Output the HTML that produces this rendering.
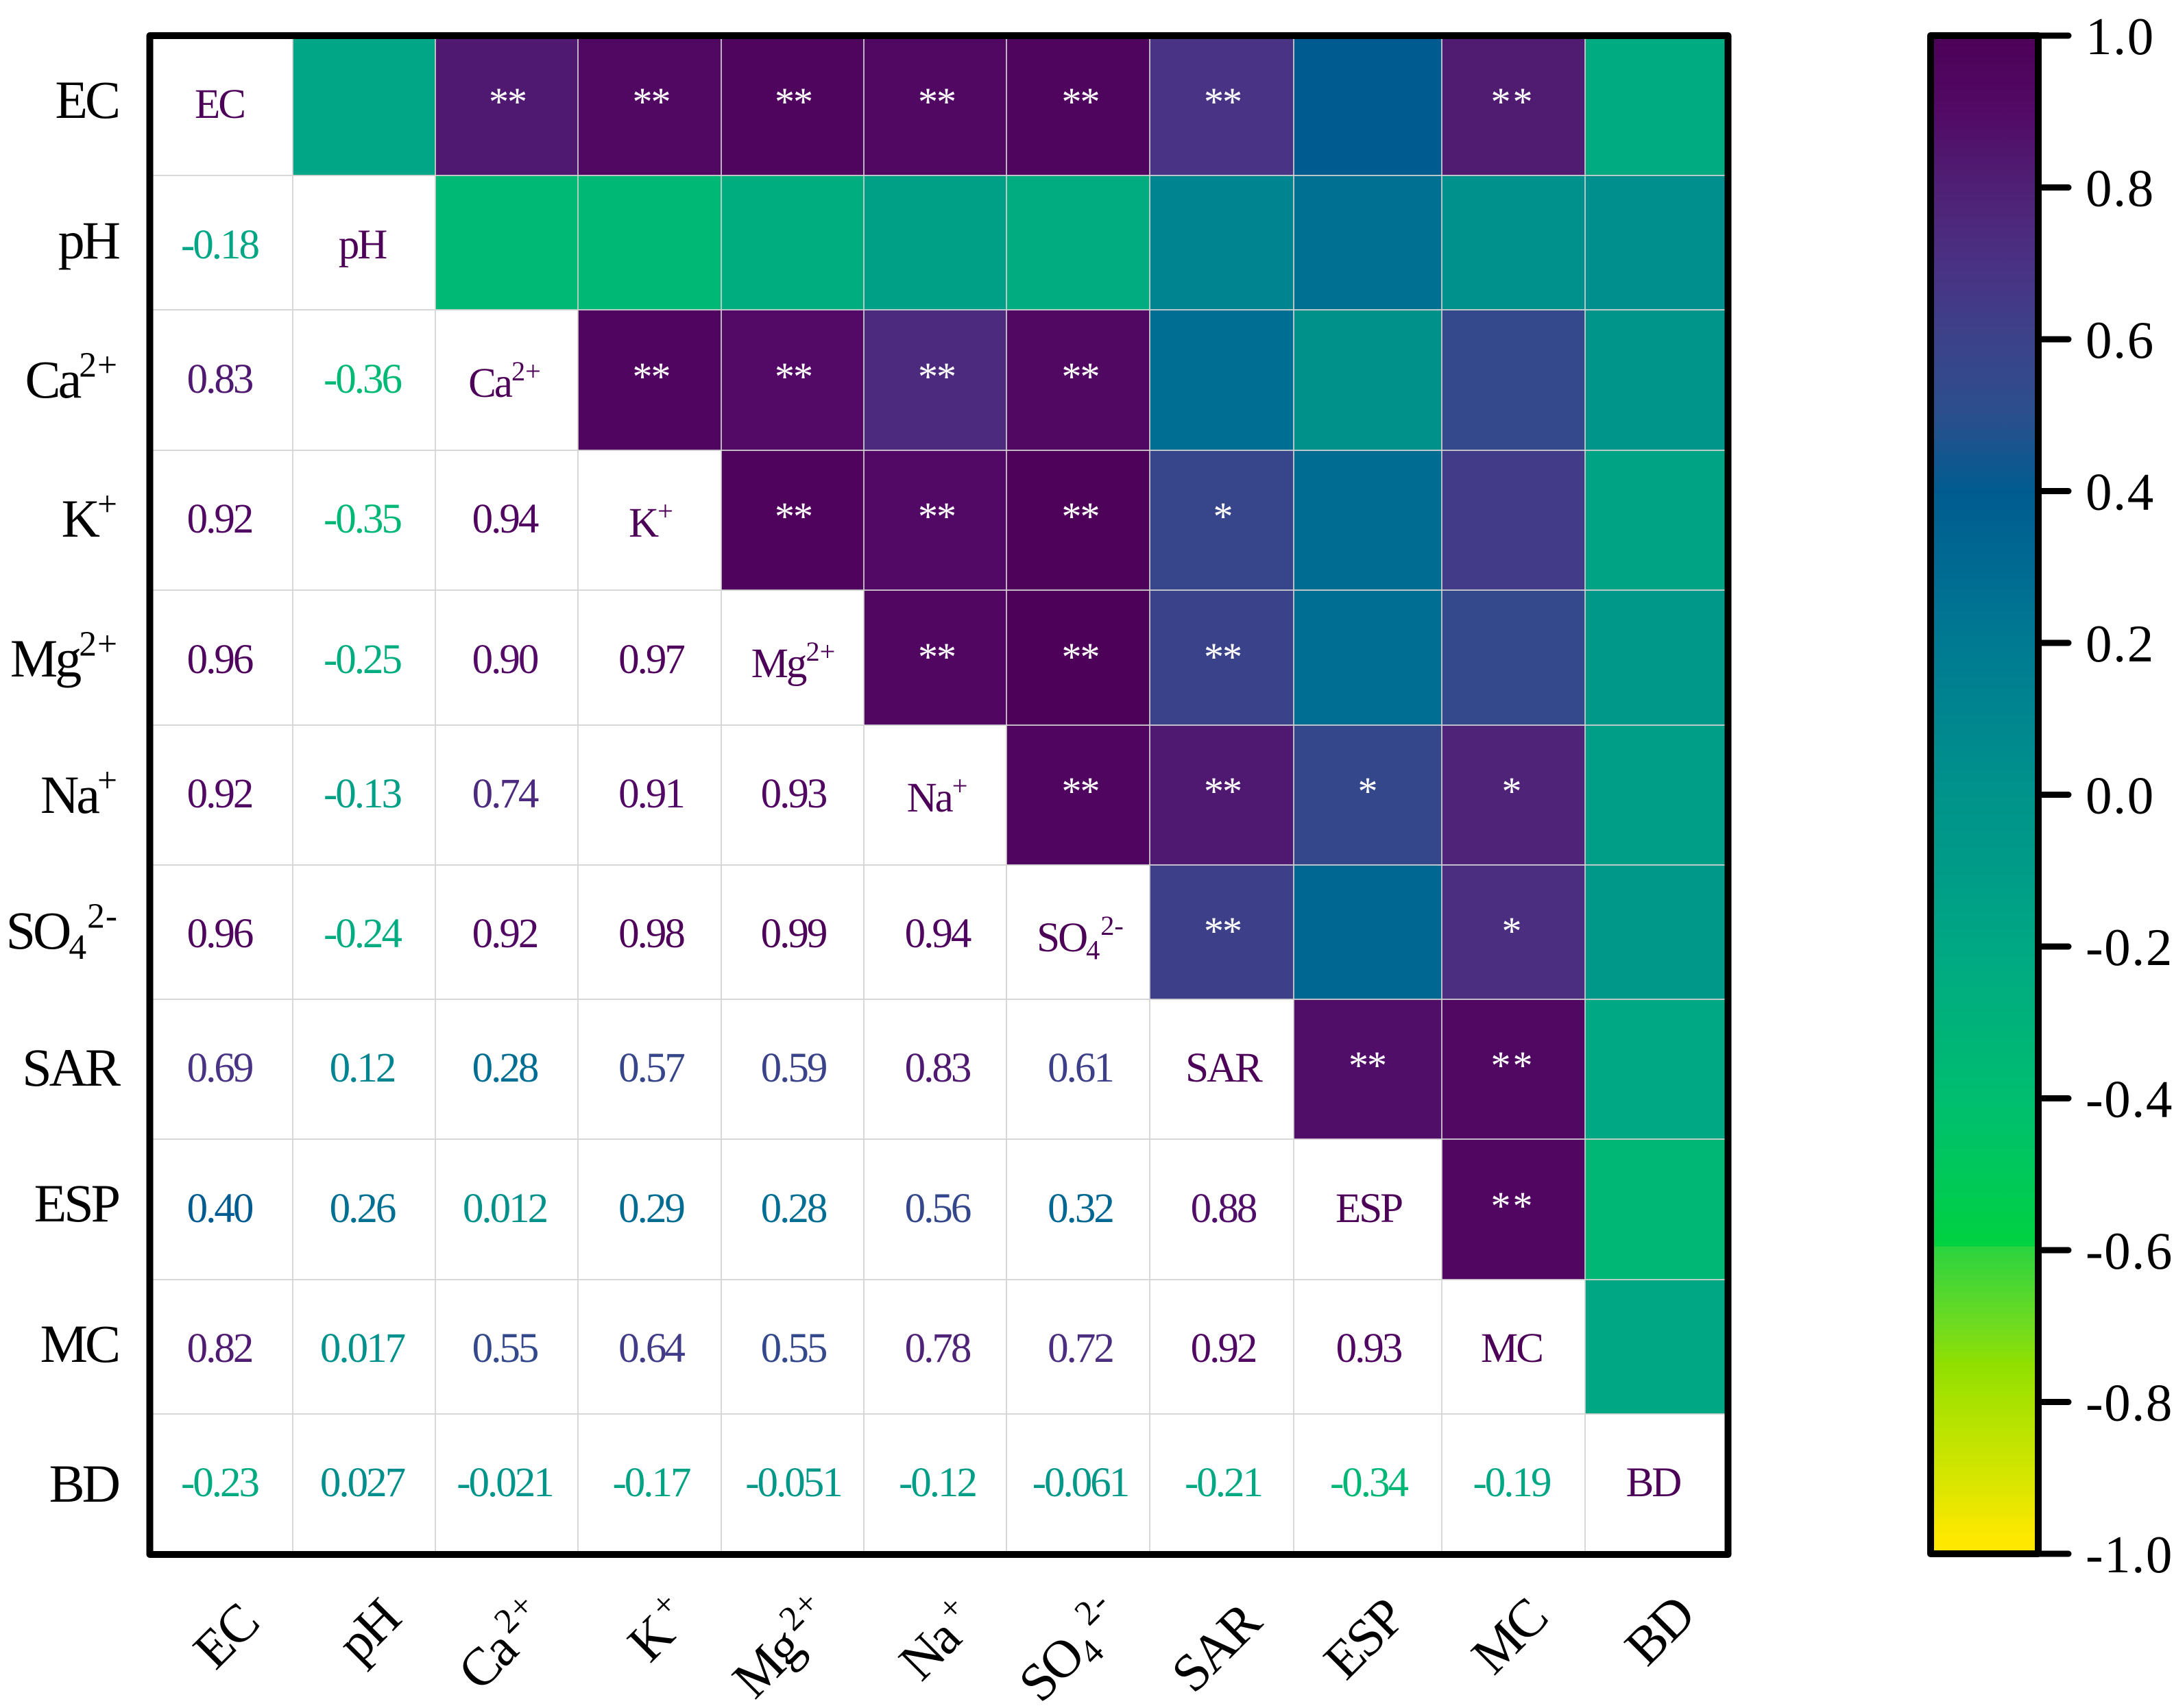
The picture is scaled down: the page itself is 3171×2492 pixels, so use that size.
<!DOCTYPE html>
<html lang="en">
<head>
<meta charset="utf-8">
<title>Correlation heatmap</title>
<style>
html,body{margin:0;padding:0;background:#fff;}
svg{display:block;font-family:"Liberation Serif","Times New Roman",serif;}
</style>
</head>
<body>
<svg id="chart" xmlns="http://www.w3.org/2000/svg" width="3171" height="2492" viewBox="0 0 3171 2492">
<rect x="0" y="0" width="3171" height="2492" fill="#ffffff"/>
<defs>
<linearGradient id="barGradient" gradientUnits="userSpaceOnUse" x1="0" x2="0"></linearGradient>
</defs>
<g id="cells"></g>
<g id="grid"></g>
<g id="cellText"></g>
<g id="axisLabels"></g>
<rect x="218.5" y="52" width="2302" height="2216" fill="none" stroke="#000" stroke-width="10" stroke-linejoin="round"/>
<g id="colorbar"></g>
</svg>
<script>
// ---- data ----
const variables = ['EC','pH','Ca2+','K+','Mg2+','Na+','SO42-','SAR','ESP','MC','BD'];
const corrRows = [
  [],
  [-0.18],
  [0.83,-0.36],
  [0.92,-0.35,0.94],
  [0.96,-0.25,0.90,0.97],
  [0.92,-0.13,0.74,0.91,0.93],
  [0.96,-0.24,0.92,0.98,0.99,0.94],
  [0.69,0.12,0.28,0.57,0.59,0.83,0.61],
  [0.40,0.26,0.012,0.29,0.28,0.56,0.32,0.88],
  [0.82,0.017,0.55,0.64,0.55,0.78,0.72,0.92,0.93],
  [-0.23,0.027,-0.021,-0.17,-0.051,-0.12,-0.061,-0.21,-0.34,-0.19]
];
const starRows = [
  ['','**','**','**','**','**','**','','**',''],
  ['','','','','','','','',''],
  ['**','**','**','**','','','',''],
  ['**','**','**','*','','',''],
  ['**','**','**','','',''],
  ['**','**','*','*',''],
  ['**','','*',''],
  ['**','**',''],
  ['**',''],
  ['']
];
const barTicks = [1.0,0.8,0.6,0.4,0.2,0.0,-0.2,-0.4,-0.6,-0.8,-1.0];
const scaleValues = [1.0,0.9,0.8,0.7,0.6,0.5,0.4,0.3,0.2,0.1,0.0,-0.1,-0.2,-0.3,-0.4,-0.5,-0.595,-0.595,-0.7,-0.75,-0.8,-0.9,-0.98];
const scaleColors = ['#4d0057','#520a66','#4f2075','#4a3183','#3c4289','#2b4f8d','#005c90','#006a92','#007a92','#00868f','#00938b','#009c88','#00a884','#00b27a','#00be70','#00c85a','#00d23f','#2ad340','#70db20','#90e000','#aae200','#d6e600','#ffe800'];

// ---- layout of the (slightly uneven) grid ----
const colEdges = [223,427,635,843,1052,1260,1468,1677,1887,2103,2312,2516];
const rowEdges = [57,256,452,657,861,1058,1262,1458,1662,1867,2063,2263];
const colNudge = [-5,-3,-3,2,1,3,3,2,1,-3,-3];
const starNudge = [0,0,4,0,0,-1,0,-1,-2,2,0];
const textBaselines = [172,377,573,777,982,1178,1382,1578,1783,1987,2183];
const rowLabelBaselines = [172,377,580,783,987,1186,1384,1584,1782,1987,2191];
const xLabelCenters = [[332,2390],[540,2382],[737,2402],[965,2380],[1145,2406],[1372,2396],[1565,2409],[1776,2407],[1992,2394],[2204,2390],[2423,2382]];

// ---- helpers ----
const NS = 'http://www.w3.org/2000/svg';
function make(tag, parent, props) {
  const el = document.createElementNS(NS, tag);
  for (const k in props) el.setAttribute(k, props[k]);
  parent.appendChild(el);
  return el;
}
function hexToRgb(h) { return [1,3,5].map(i => parseInt(h.substr(i,2),16)); }
function colorOf(v) {
  for (let i = 0; i < scaleValues.length - 1; i++) {
    const a = scaleValues[i], b = scaleValues[i+1];
    if (v <= a && v >= b && a !== b) {
      const t = (a - v) / (a - b);
      const ca = hexToRgb(scaleColors[i]), cb = hexToRgb(scaleColors[i+1]);
      return 'rgb(' + ca.map((c,j) => Math.round(c + (cb[j]-c)*t)).join(',') + ')';
    }
  }
  return v > 0 ? scaleColors[0] : scaleColors[scaleColors.length-1];
}
function formatValue(v) {
  return Math.abs(v) < 0.1 ? v.toFixed(3) : v.toFixed(2);
}
function slug(s) { return s.toLowerCase().replace(/\+/g,'-plus').replace(/-$/,'-minus'); }
function xCenter(c) { return (colEdges[c] + colEdges[c+1]) / 2 + colNudge[c]; }
function barY(v) { return 52 + (1 - v) / 2 * 2215; }
function labelParts(name) {
  if (name === 'Ca2+') return [['Ca',0],['2+',1]];
  if (name === 'K+') return [['K',0],['+',1]];
  if (name === 'Mg2+') return [['Mg',0],['2+',1]];
  if (name === 'Na+') return [['Na',0],['+',1]];
  if (name === 'SO42-') return [['SO',0],['4',-1],['2-',1]];
  return [[name,0]];
}
function fillLabel(textEl, name, fontSize, supSpacing, supGap) {
  const small = fontSize * 0.66;
  let offset = 0;
  labelParts(name).forEach(part => {
    const target = part[1] === 1 ? -fontSize * 0.39 : part[1] === -1 ? fontSize * 0.19 : 0;
    const props = {dy: (target - offset).toFixed(1), 'font-size': part[1] ? small.toFixed(1) : fontSize};
    if (part[1]) props['letter-spacing'] = supSpacing;
    if (part[1] === 1) props.dx = supGap;
    const span = make('tspan', textEl, props);
    span.textContent = part[0];
    offset = target;
  });
}

// ---- heatmap cells ----
const cellsG = document.getElementById('cells');
const textG = document.getElementById('cellText');
const n = variables.length;
for (let r = 0; r < n; r++) {
  for (let c = 0; c < n; c++) {
    const id = slug(variables[r]) + '-' + slug(variables[c]);
    if (c > r) {
      const value = corrRows[c][r];
      const cell = make('rect', cellsG, {x: colEdges[c], y: rowEdges[r], width: colEdges[c+1]-colEdges[c], height: rowEdges[r+1]-rowEdges[r], fill: colorOf(value)});
      
      
      const mark = starRows[r][c-r-1];
      if (mark) {
        const star = make('text', textG, {x: xCenter(c) + starNudge[c], y: textBaselines[r] - 4, 'text-anchor': 'middle', 'font-size': 58, fill: '#ffffff', 'letter-spacing': c === 9 ? 3 : -2});
        star.textContent = mark;
        
        
      }
    } else if (c < r) {
      const value = corrRows[r][c];
      const label = make('text', textG, {x: xCenter(c), y: textBaselines[r], 'text-anchor': 'middle', 'font-size': 61, fill: colorOf(value), 'letter-spacing': -3});
      label.textContent = formatValue(value);
      
      
    } else {
      const hasSup = labelParts(variables[r]).length > 1;
      const diag = make('text', textG, {x: xCenter(c), y: textBaselines[r] + (hasSup ? 6 : 0), 'text-anchor': 'middle', fill: colorOf(1), 'letter-spacing': -3});
      fillLabel(diag, variables[r], 61, 0, 1);
      
      
    }
  }
}

// ---- grid lines ----
const gridG = document.getElementById('grid');
colEdges.slice(1,-1).forEach((x, i) => {
  const line = make('line', gridG, {x1: x, x2: x, y1: 57, y2: 2263, stroke: '#d2d2d2', 'stroke-width': 1.7});
  
  
});
rowEdges.slice(1,-1).forEach((y, i) => {
  const line = make('line', gridG, {x1: 223, x2: 2516, y1: y, y2: y, stroke: '#d2d2d2', 'stroke-width': 1.7});
  
  
});

// ---- axis labels ----
const axisG = document.getElementById('axisLabels');
variables.forEach((name, i) => {
  const yl = make('text', axisG, {x: 172, y: rowLabelBaselines[i], 'text-anchor': 'end', fill: '#000', 'letter-spacing': -4});
  fillLabel(yl, name, 78, 1, 0);
  
  

  const cx = xLabelCenters[i][0], cy = xLabelCenters[i][1];
  const xl = make('text', axisG, {x: cx, y: cy + 22, 'text-anchor': 'middle', fill: '#000', 'letter-spacing': -3, transform: 'rotate(-45 ' + cx + ' ' + cy + ')'});
  fillLabel(xl, name, 78, 2, 8);
  
  
});

// ---- colour bar ----
const barG = document.getElementById('colorbar');
const grad = document.getElementById('barGradient');
grad.setAttribute('y1', barY(1));
grad.setAttribute('y2', barY(-1));
scaleValues.forEach((v, i) => {
  make('stop', grad, {offset: ((1 - v) / 2).toFixed(4), 'stop-color': scaleColors[i]});
});
const barFill = make('rect', barG, {x: 2816, y: 52, width: 157, height: 2215, fill: 'url(#barGradient)', stroke: '#000', 'stroke-width': 10, 'stroke-linejoin': 'round'});


barTicks.forEach(v => {
  const tick = make('line', barG, {x1: 2973, x2: 3017, y1: barY(v), y2: barY(v), stroke: '#000', 'stroke-width': 9, 'stroke-linecap': 'round'});
  
  
  const label = make('text', barG, {x: 3042, y: barY(v) + 27, 'font-size': 77, fill: '#000', 'letter-spacing': 1.5});
  label.textContent = v.toFixed(1);
  
  
});
</script>
</body>
</html>
